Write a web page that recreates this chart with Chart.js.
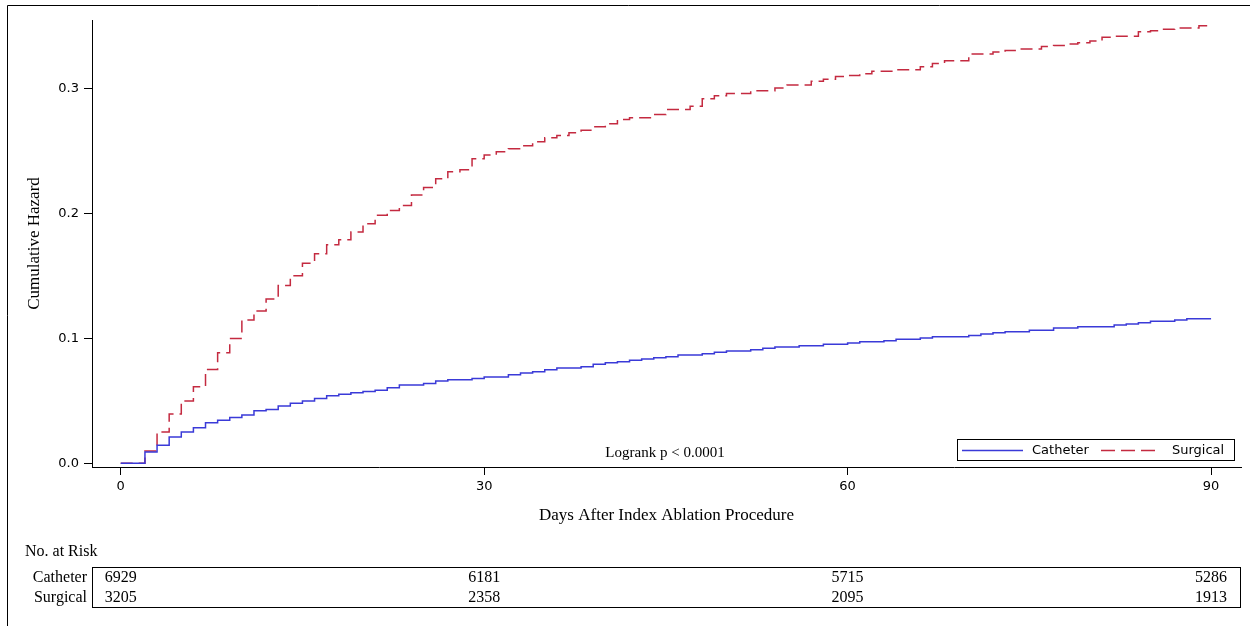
<!DOCTYPE html>
<html>
<head>
<meta charset="utf-8">
<script src="https://cdn.jsdelivr.net/npm/chart.js@4.4.1/dist/chart.umd.min.js"></script>
<style>
  html,body{margin:0;padding:0;background:#fff;}
  #wrap{position:relative;width:1250px;height:626px;}
</style>
</head>
<body>
<div id="wrap"><canvas id="km" width="1250" height="626"></canvas></div>
<script>
// ─── DATA ───────────────────────────────────────────────────────────
const catheterDays   = [0,2,3,4,5,6,7,8,9,10,11,12,13,14,15,16,17,18,19,20,21,22,23,25,26,27,29,30,32,33,34,35,36,38,39,40,41,42,43,44,45,46,48,49,50,52,53,54,56,58,60,61,63,64,66,67,70,71,72,73,75,77,79,82,83,84,85,87,88,90];
const catheterHazard = [0,0.0091,0.0145,0.0211,0.0251,0.0284,0.0324,0.0345,0.0367,0.0386,0.042,0.0431,0.0458,0.048,0.050,0.052,0.0541,0.0553,0.0565,0.0576,0.0586,0.0605,0.0627,0.064,0.0659,0.0669,0.068,0.0691,0.0709,0.0723,0.0733,0.0749,0.0763,0.0774,0.0793,0.0806,0.0814,0.0825,0.0835,0.0846,0.0854,0.0867,0.0878,0.0889,0.090,0.091,0.0921,0.0932,0.0942,0.0953,0.0964,0.0974,0.0982,0.0993,0.1004,0.1015,0.1025,0.1036,0.1047,0.1055,0.1066,0.1084,0.1095,0.1108,0.1116,0.1127,0.1138,0.1149,0.1159,0.1159];
const surgicalDays   = [0,2,3,4,5,6,7,8,9,10,11,12,13,14,15,16,17,18,19,20,21,22,23,24,25,26,27,28,29,30,31,32,33,34,35,36,37,38,39,40,41,42,44,45,47,48,49,50,52,54,55,57,58,59,60,61,62,64,66,67,68,70,72,73,74,76,77,78,79,80,81,82,84,85,86,87,89,90];
const surgicalHazard = [0,0.0099,0.0251,0.0394,0.050,0.0613,0.0752,0.0886,0.1001,0.1149,0.1221,0.1317,0.1424,0.1502,0.1604,0.1679,0.1751,0.1791,0.1853,0.192,0.1987,0.2027,0.2067,0.215,0.221,0.228,0.2337,0.2353,0.244,0.247,0.2496,0.252,0.2546,0.2578,0.2609,0.2627,0.265,0.267,0.2698,0.2722,0.2755,0.277,0.2795,0.2835,0.2862,0.2921,0.2945,0.2964,0.2985,0.3007,0.3031,0.3063,0.3079,0.3100,0.3108,0.3122,0.3143,0.3154,0.3178,0.3205,0.3226,0.328,0.3296,0.3309,0.332,0.3341,0.3349,0.336,0.3371,0.3384,0.3414,0.3422,0.3459,0.3467,0.3478,0.3488,0.3507,0.3507];
const xTicks = [0,30,60,90];
const yTicks = [0,0.1,0.2,0.3];
const riskGroups = ['Catheter','Surgical'];
const catheterAtRisk = [6929,6181,5715,5286];
const surgicalAtRisk = [3205,2358,2095,1913];

// ─── STYLE ──────────────────────────────────────────────────────────
const BLUE='#3a3ad8', RED='#c42a40';
const SANS='"DejaVu Sans", Verdana, sans-serif';
const SERIF='"Liberation Serif", "Times New Roman", serif';

const toPts=(xs,ys)=>xs.map((d,i)=>({x:d,y:ys[i]}));

// texts drawn on top: legend, logrank, risk table, frame
const extras={
  id:'extras',
  afterDraw(chart){
    const c=chart.ctx, xs=chart.scales.x;
    c.save();
    // outer frame
    c.strokeStyle='#000';c.lineWidth=1;c.setLineDash([]);
    c.beginPath();c.moveTo(7.5,626);c.lineTo(7.5,5.5);c.lineTo(1250,5.5);c.stroke();
    // logrank
    c.fillStyle='#000';c.font='15px '+SERIF;c.textAlign='center';c.textBaseline='middle';
    c.fillText('Logrank p < 0.0001',665,453);
    // legend
    c.strokeRect(957.5,439.5,277,21);
    const ds=chart.data.datasets;
    c.lineWidth=1.5;
    c.strokeStyle=ds[0].borderColor;c.beginPath();c.moveTo(962,450.5);c.lineTo(1023,450.5);c.stroke();
    c.strokeStyle=ds[1].borderColor;c.setLineDash([14,6]);c.beginPath();c.moveTo(1101,450.5);c.lineTo(1155,450.5);c.stroke();
    c.setLineDash([]);
    c.font='13px '+SANS;c.textAlign='left';c.fillStyle='#000';
    c.fillText(ds[0].label,1032,450.5);
    c.fillText(ds[1].label,1172,450.5);
    // risk table
    c.font='16px '+SERIF;
    c.fillText('No. at Risk',25,552);
    c.lineWidth=1;c.strokeStyle='#000';
    c.strokeRect(92.5,567.5,1148,40);
    c.textAlign='right';
    c.fillText(riskGroups[0],87,578);
    c.fillText(riskGroups[1],87,598);
    c.textAlign='center';
    xTicks.forEach((t,i)=>{
      const px=xs.getPixelForValue(t);
      c.fillText(String(catheterAtRisk[i]),px,578);
      c.fillText(String(surgicalAtRisk[i]),px,598);
    });
    c.restore();
  }
};

new Chart(document.getElementById('km'),{
  type:'line',
  data:{datasets:[
    {label:'Catheter',data:toPts(catheterDays,catheterHazard),borderColor:BLUE,borderWidth:1.5,pointRadius:0,stepped:true,fill:false},
    {label:'Surgical',data:toPts(surgicalDays,surgicalHazard),borderColor:RED,borderWidth:1.5,borderDash:[12,6],pointRadius:0,stepped:true,fill:false}
  ]},
  options:{
    responsive:false,animation:false,
    layout:{padding:{top:20,right:9,bottom:96,left:0}},
    plugins:{legend:{display:false},tooltip:{enabled:false}},
    scales:{
      x:{type:'linear',min:-2.37,max:92.47,
        afterBuildTicks:s=>{s.ticks=xTicks.map(v=>({value:v}));},
        afterFit:s=>{s.height=63;},
        border:{display:true,color:'#000',width:1},
        grid:{drawOnChartArea:false,drawTicks:true,tickLength:8,color:'#000'},
        ticks:{font:{family:SANS,size:13},color:'#000',padding:4,maxRotation:0},
        title:{display:true,text:'Days After Index Ablation Procedure',font:{family:SERIF,size:17},color:'#000',padding:{top:0,bottom:4}}
      },
      y:{min:-0.003,max:0.3553,
        afterBuildTicks:s=>{s.ticks=yTicks.map(v=>({value:v}));},
        afterFit:s=>{s.width=92;},
        border:{display:true,color:'#000',width:1},
        grid:{drawOnChartArea:false,drawTicks:true,tickLength:8,color:'#000'},
        ticks:{font:{family:SANS,size:13},color:'#000',padding:5,callback:v=>v.toFixed(1)},
        title:{display:true,text:'Cumulative Hazard',font:{family:SERIF,size:17},color:'#000',padding:{top:24,bottom:0}}
      }
    }
  },
  plugins:[extras]
});
</script>
</body>
</html>
